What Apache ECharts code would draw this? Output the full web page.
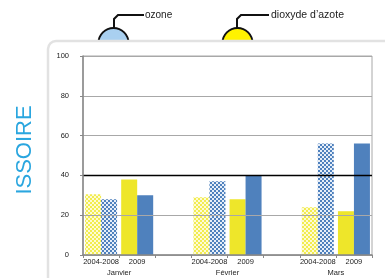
<!DOCTYPE html>
<html><head><meta charset="utf-8">
<script src="https://cdn.jsdelivr.net/npm/echarts@6/dist/echarts.min.js"></script>
<style>html,body{margin:0;padding:0;background:#fff}#c{width:385px;height:278px}</style>
</head><body><div id="c"></div>
<script>
// ---- data ----
const months = ['Janvier', 'Février', 'Mars'];
const periods = ['2004-2008', '2009'];
const no2Ref = [30.5, 29, 24];   // dioxyde d'azote 2004-2008
const no2Y2009 = [38, 28, 22];   // dioxyde d'azote 2009
const o3Ref = [28, 37, 56];      // ozone 2004-2008
const o3Y2009 = [30, 40, 56];    // ozone 2009
const yTicks = [0, 20, 40, 60, 80, 100];
const threshold = 40;

function checker(c1, c2) {
  const cv = document.createElement('canvas');
  cv.width = 4; cv.height = 4;
  const g = cv.getContext('2d');
  g.fillStyle = c2; g.fillRect(0, 0, 4, 4);
  g.fillStyle = c1; g.fillRect(0, 0, 2, 2); g.fillRect(2, 2, 2, 2);
  return {image: cv, repeat: 'repeat'};
}
const YEL = '#eee62a', BLU = '#4f81bd';
const yelPat = checker('#f2ec50', '#fdfbd6');
const bluPat = checker('#4f81bd', '#e6eef8');

const cats = [];
const monthCats = [''];
months.forEach((m, i) => {
  periods.forEach(p => cats.push(p));
  monthCats.push(m, '');
  if (i < months.length - 1) { cats.push(''); monthCats.push(''); }
});
monthCats.length = cats.length + 1;

function build(ref, cur, pat, solid) {
  const out = [];
  months.forEach((m, i) => {
    out.push({value: ref[i], itemStyle: {color: pat}});
    out.push({value: cur[i], itemStyle: {color: solid}});
    if (i < months.length - 1) out.push('-');
  });
  return out;
}

const chart = echarts.init(document.getElementById('c'), null, {renderer: 'canvas'});
const lblFont = {fontFamily: 'Liberation Sans', fontSize: 7.5, color: '#222'};
chart.setOption({
  animation: false,
  grid: {left: 83, top: 56, right: 13, bottom: 23, show: true, borderColor: '#a8a8a8', borderWidth: 1, z: 3},
  graphic: [
    {type: 'circle', shape: {cx: 113.5, cy: 43, r: 15}, style: {fill: '#a9d0f0', stroke: '#111', lineWidth: 2}, z: 1},
    {type: 'circle', shape: {cx: 237.5, cy: 43, r: 15}, style: {fill: '#fff200', stroke: '#111', lineWidth: 2}, z: 1},
    {type: 'polyline', shape: {points: [[114, 28], [114, 19], [118, 15], [144, 15]]}, style: {stroke: '#111', lineWidth: 2, fill: null}, z: 1},
    {type: 'polyline', shape: {points: [[237, 28], [237, 19], [241, 15], [269, 15]]}, style: {stroke: '#111', lineWidth: 2, fill: null}, z: 1},
    {type: 'text', x: 145, y: 15, style: {text: 'ozone', fontFamily: 'Liberation Sans', fontSize: 10, fill: '#222', verticalAlign: 'middle'}, z: 1},
    {type: 'text', x: 271, y: 15, style: {text: 'dioxyde d\u2019azote', fontFamily: 'Liberation Sans', fontSize: 10.5, fill: '#222', verticalAlign: 'middle'}, z: 1},
    {type: 'rect', shape: {x: 48, y: 41, width: 400, height: 300, r: 8}, style: {fill: '#fff', stroke: '#e2e2e2', lineWidth: 2.5}, z: 2},
    {type: 'text', x: 25, y: 150, rotation: Math.PI / 2, style: {text: 'ISSOIRE', fontFamily: 'Liberation Sans', fontSize: 22, fill: '#2aa6df', align: 'center', verticalAlign: 'middle'}, z: 2}
  ],
  xAxis: [
    {type: 'category', data: cats, gridIndex: 0,
     axisLine: {lineStyle: {color: '#888', width: 1.5}},
     axisTick: {show: true, interval: 0, length: 3, lineStyle: {color: '#888'}},
     axisLabel: Object.assign({interval: 0, margin: 3}, lblFont), z: 5},
    {type: 'category', data: monthCats, boundaryGap: false, position: 'bottom', offset: 11, gridIndex: 0, z: 5,
     axisLine: {show: false}, axisTick: {show: false}, splitLine: {show: false},
     axisLabel: Object.assign({show: true, interval: 0, margin: 3}, lblFont)}
  ],
  yAxis: {type: 'value', min: 0, max: 100, interval: 20,
    axisLine: {show: true, lineStyle: {color: '#888', width: 1.5}},
    axisTick: {show: true, length: 3, lineStyle: {color: '#888'}},
    axisLabel: Object.assign({margin: 14}, lblFont),
    splitLine: {lineStyle: {color: '#a8a8a8', width: 1}}, z: 5},
  series: [
    {name: 'dioxyde d\u2019azote', type: 'bar', data: build(no2Ref, no2Y2009, yelPat, YEL),
     barWidth: 16, barGap: '0%', z: 4,
     markLine: {silent: true, symbol: 'none', label: {show: false},
       lineStyle: {color: '#000', width: 1.3, type: 'solid'}, data: [{yAxis: threshold}]}},
    {name: 'ozone', type: 'bar', data: build(o3Ref, o3Y2009, bluPat, BLU), barWidth: 16, barGap: '0%', z: 4}
  ]
});
</script></body></html>
